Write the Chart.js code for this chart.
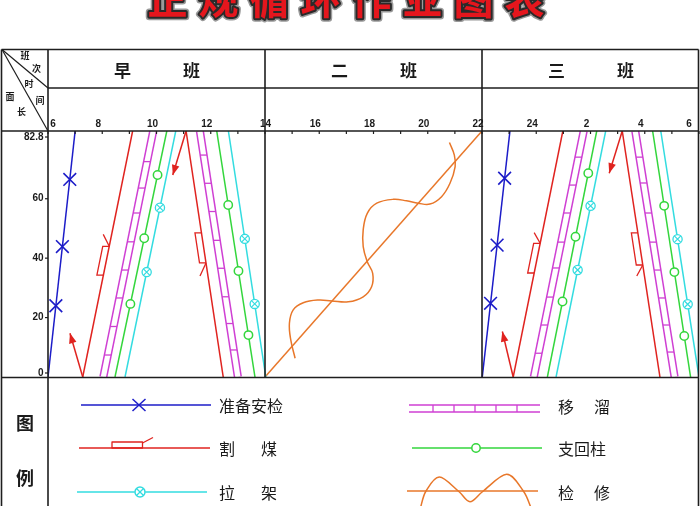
<!DOCTYPE html>
<html><head><meta charset="utf-8">
<script src="https://cdn.jsdelivr.net/npm/chart.js@4.4.1/dist/chart.umd.min.js"></script>
<style>html,body{margin:0;padding:0;background:#fff}canvas{display:block}</style>
</head><body>
<canvas id="c" width="700" height="506"></canvas>
<script>
// ---------- data ----------
const titleText = '正规循环作业图表';
const shiftNames = [['早','班'],['二','班'],['三','班']];
const shiftBounds = [6, 14, 22, 30];
const hourTicks = [6,8,10,12,14,16,18,20,22,24,26,28,30];
const hourLabels = ['6','8','10','12','14','16','18','20','22','24','2','4','6'];
const lengthTicks = [0,20,40,60,82.8];
const lengthLabels = ['0','20','40','60','82.8'];

// process lines: [time, face length m]
const prep1 = [[6.00,0],[7.00,82.8]];
const prep3 = [[22.01,0],[23.03,82.8]];
const cutUp1 = [[7.28,0],[9.12,82.8]];
const cutDown1 = [[11.09,82.8],[12.46,0]];
const cutUp3 = [[23.15,0],[24.98,82.8]];
const cutDown3 = [[27.17,82.8],[28.56,0]];
const moveUp1 = [[8.04,0],[9.88,82.8]];
const moveDown1 = [[11.60,82.8],[13.00,0]];
const moveUp3 = [[23.91,0],[25.75,82.8]];
const moveDown3 = [[27.65,82.8],[29.10,0]];
const propUp1 = [[8.47,0],[10.38,82.8]];
const propDown1 = [[12.22,82.8],[13.63,0]];
const propUp3 = [[24.41,0],[26.23,82.8]];
const propDown3 = [[28.29,82.8],[29.69,0]];
const pullUp1 = [[8.84,0],[10.71,82.8]];
const pullDown1 = [[12.65,82.8],[14.03,0]];
const pullUp3 = [[24.73,0],[26.56,82.8]];
const pullDown3 = [[28.59,82.8],[30.00,0]];
const repairLine = [[14,0],[22,82.8]];
const repairWave = [[15.11,6.3],[14.95,12.5],[14.90,18.1],[15.04,22.6],[15.41,25.0],[15.97,25.9],[16.46,25.6],[17.07,25.3],[17.62,27.0],[17.93,30.4],[17.97,34.9],[17.77,38.8],[17.62,43.9],[17.62,49.5],[17.77,55.1],[18.12,58.5],[18.73,59.8],[19.22,59.3],[19.65,58.5],[20.08,58.2],[20.51,60.7],[20.82,65.2],[21.01,70.8],[20.98,74.7],[20.80,78.9]];
const arrowLines = [
  [[7.28,0],[6.81,14.7]],
  [[11.09,82.8],[10.60,68.0]],
  [[23.15,0],[22.75,15.3]],
  [[27.17,82.8],[26.69,68.6]]
];

// marker positions along the face (m)
const prepMarks1 = [24.0, 43.9, 66.5];
const prepMarks3 = [24.8, 44.4, 66.9];
const propMarksUp1 = [24.6, 46.7, 68.0];
const propMarksDown1 = [14.1, 35.7, 57.9];
const propMarksUp3 = [25.4, 47.2, 68.6];
const propMarksDown3 = [13.8, 35.3, 57.6];
const pullMarksUp1 = [35.3, 57.0];
const pullMarksDown1 = [24.6, 46.5];
const pullMarksUp3 = [36.0, 57.6];
const pullMarksDown3 = [24.5, 46.4];
const moveTiesUp1 = [7.4,17.0,26.6,36.0,45.5,55.2,63.6,72.5];
const moveTiesDown1 = [9.1,18.0,27.0,36.6,46.0,55.7,65.2,74.7];
const moveTiesUp3 = [8.0,17.5,26.9,36.7,45.4,55.2,64.6,74.0];
const moveTiesDown3 = [8.4,17.5,26.6,36.0,45.4,55.2,65.3,74.0];
const cutSpans = [[34.3,44.0,48.0],[48.5,38.4,34.0],[35.0,45.0,48.6],[48.5,37.7,34.0]];

// ---------- styles ----------
const C = {blue:'#1c1cc8', red:'#e0231f', magenta:'#cf3fd3', green:'#33d63c', cyan:'#33dce0', orange:'#e8772a', frame:'#1e1e1e', text:'#1a1a1a'};

function along(line, v){
  const [[x0,y0],[x1,y1]] = line;
  return x0 + (v - y0) / (y1 - y0) * (x1 - x0);
}
function marks(line, vals){ return vals.map(v => [along(line, v), v]); }

function lineDs(data, color, width, order){
  return {data, showLine:true, borderColor:color, borderWidth:width, pointRadius:0, fill:false, tension:0, order, clip:0};
}
function markDs(data, style, radius, color, bg, bw){
  return {data, showLine:false, pointStyle:style, pointRadius:radius, pointBorderColor:color, pointBackgroundColor:bg, pointBorderWidth:bw, order:1, clip:false};
}

const datasets = [];
[moveUp1, moveDown1, moveUp3, moveDown3].forEach(l => {
  datasets.push(lineDs(l, C.magenta, 8.2, 6));
  datasets.push(lineDs(l, '#ffffff', 5.2, 5));
});
[prep1, prep3].forEach(l => datasets.push(lineDs(l, C.blue, 1.5, 3)));
[cutUp1, cutDown1, cutUp3, cutDown3].forEach(l => datasets.push(lineDs(l, C.red, 1.5, 3)));
[propUp1, propDown1, propUp3, propDown3].forEach(l => datasets.push(lineDs(l, C.green, 1.5, 3)));
[pullUp1, pullDown1, pullUp3, pullDown3].forEach(l => datasets.push(lineDs(l, C.cyan, 1.5, 3)));
datasets.push(lineDs(repairLine, C.orange, 1.5, 3));
const wave = lineDs(repairWave, C.orange, 1.5, 3); wave.tension = 0.4; datasets.push(wave);
arrowLines.forEach(l => datasets.push(lineDs(l, C.red, 1.5, 2)));

datasets.push(markDs(marks(prep1, prepMarks1), 'crossRot', 9, C.blue, C.blue, 1.6));
datasets.push(markDs(marks(prep3, prepMarks3), 'crossRot', 9, C.blue, C.blue, 1.6));
[[propUp1,propMarksUp1],[propDown1,propMarksDown1],[propUp3,propMarksUp3],[propDown3,propMarksDown3]].forEach(([l,m]) =>
  datasets.push(markDs(marks(l, m), 'circle', 4.2, C.green, '#ffffff', 1.5)));
[[pullUp1,pullMarksUp1],[pullDown1,pullMarksDown1],[pullUp3,pullMarksUp3],[pullDown3,pullMarksDown3]].forEach(([l,m]) => {
  datasets.push(markDs(marks(l, m), 'circle', 4.6, C.cyan, '#ffffff', 1.3));
  const d = markDs(marks(l, m), 'crossRot', 4.6, C.cyan, C.cyan, 1.2); d.order = 0; datasets.push(d);
});

const moveSets = [[moveUp1,moveTiesUp1],[moveDown1,moveTiesDown1],[moveUp3,moveTiesUp3],[moveDown3,moveTiesDown3]];
const cutSets = [[cutUp1,cutSpans[0]],[cutDown1,cutSpans[1]],[cutUp3,cutSpans[2]],[cutDown3,cutSpans[3]]];

const CJK = '"Noto Sans CJK SC", sans-serif';
const NUM = '"Liberation Sans", Arial, sans-serif';

function seg(ctx, x0, y0, x1, y1){ ctx.beginPath(); ctx.moveTo(x0,y0); ctx.lineTo(x1,y1); ctx.stroke(); }
function smooth(ctx, pts){
  ctx.beginPath(); ctx.moveTo(pts[0][0], pts[0][1]);
  for (let i = 0; i < pts.length - 1; i++){
    const p0 = pts[Math.max(0,i-1)], p1 = pts[i], p2 = pts[i+1], p3 = pts[Math.min(pts.length-1,i+2)];
    ctx.bezierCurveTo(p1[0]+(p2[0]-p0[0])/6, p1[1]+(p2[1]-p0[1])/6, p2[0]-(p3[0]-p1[0])/6, p2[1]-(p3[1]-p1[1])/6, p2[0], p2[1]);
  }
  ctx.stroke();
}

const decor = {
  id:'decor',
  beforeDraw(chart){
    const c = chart.ctx; c.save(); c.fillStyle = '#fff'; c.fillRect(0,0,chart.width,chart.height); c.restore();
  },
  afterDatasetsDraw(chart){
    const ctx = chart.ctx, xs = chart.scales.x, ys = chart.scales.y, a = chart.chartArea;
    const P = (t,v) => ({x: xs.getPixelForValue(t), y: ys.getPixelForValue(v)});
    ctx.save();
    ctx.beginPath(); ctx.rect(a.left, a.top, a.right-a.left, a.bottom-a.top); ctx.clip();
    ctx.strokeStyle = C.magenta; ctx.lineWidth = 1.3;
    moveSets.forEach(([line, ties]) => ties.forEach(v => {
      const p = P(along(line, v), v); seg(ctx, p.x-3.4, p.y, p.x+3.4, p.y);
    }));
    ctx.strokeStyle = C.red; ctx.lineWidth = 1.3;
    cutSets.forEach(([line, s]) => {
      const pa = P(along(line, s[0]), s[0]), pb = P(along(line, s[1]), s[1]), pt = ys.getPixelForValue(s[2]);
      ctx.beginPath(); ctx.moveTo(pa.x, pa.y); ctx.lineTo(pa.x-6.5, pa.y); ctx.lineTo(pb.x-6.5, pb.y); ctx.lineTo(pb.x, pb.y); ctx.stroke();
      seg(ctx, pb.x, pb.y, pb.x-6, pt);
    });
    ctx.fillStyle = C.red;
    arrowLines.forEach(ar => {
      const s = P(ar[0][0], ar[0][1]), e = P(ar[1][0], ar[1][1]);
      const dx = e.x-s.x, dy = e.y-s.y, L = Math.hypot(dx,dy), ux = dx/L, uy = dy/L;
      const bx = e.x-ux*10, by = e.y-uy*10;
      ctx.beginPath(); ctx.moveTo(e.x, e.y); ctx.lineTo(bx-uy*3.8, by+ux*3.8); ctx.lineTo(bx+uy*3.8, by-ux*3.8); ctx.closePath(); ctx.fill();
    });
    ctx.restore();
  },
  afterDraw(chart){
    const ctx = chart.ctx, xs = chart.scales.x, ys = chart.scales.y, a = chart.chartArea;
    ctx.save();
    // title
    ctx.font = 'bold 40px ' + CJK; ctx.textAlign = 'center'; ctx.textBaseline = 'alphabetic';
    ctx.lineJoin = 'round';
    [...titleText].forEach((ch, i) => {
      const x = 167.5 + i*51;
      ctx.strokeStyle = '#9a9a9a'; ctx.lineWidth = 7; ctx.strokeText(ch, x, 14);
      ctx.strokeStyle = '#2a2a2a'; ctx.lineWidth = 4; ctx.strokeText(ch, x, 14);
      ctx.fillStyle = '#e5161d'; ctx.fillText(ch, x, 14);
    });
    // frame
    const L = 1.5, R = 698.5, T = 49.5, H1 = 88, AX = a.top, B = a.bottom + 0.5, BOT = 506;
    ctx.strokeStyle = C.frame; ctx.lineWidth = 1.6;
    seg(ctx, L, T, R, T); seg(ctx, L, T, L, BOT); seg(ctx, R, T, R, BOT);
    seg(ctx, a.left, T, a.left, BOT); seg(ctx, a.left, H1, R, H1);
    seg(ctx, L, AX, R, AX); seg(ctx, L, B, R, B);
    shiftBounds.slice(1, -1).forEach(h => { const x = xs.getPixelForValue(h); seg(ctx, x, T, x, B); });
    ctx.lineWidth = 1.2;
    seg(ctx, L+0.5, T, a.left, H1); seg(ctx, L+0.5, T, a.left, AX);
    // hour ticks
    ctx.lineWidth = 1.2;
    for (let h = shiftBounds[0]; h <= shiftBounds[3]; h++){ const x = xs.getPixelForValue(h); seg(ctx, x, AX, x, AX+3); }
    // header
    ctx.fillStyle = C.text; ctx.textAlign = 'center'; ctx.textBaseline = 'middle';
    ctx.font = 'bold 17px ' + CJK;
    shiftNames.forEach((n, i) => {
      const cx = (xs.getPixelForValue(shiftBounds[i]) + xs.getPixelForValue(shiftBounds[i+1])) / 2;
      ctx.fillText(n[0], cx-34, 71); ctx.fillText(n[1], cx+35, 71);
    });
    ctx.font = 'bold 9px ' + CJK;
    [['班',25,56],['次',36.5,69],['时',29,84],['间',40,101],['面',10,97],['长',21.5,112]].forEach(t => ctx.fillText(t[0], t[1], t[2]));
    // hour labels
    ctx.font = 'bold 10px ' + NUM; ctx.textBaseline = 'middle';
    hourTicks.forEach((h, i) => {
      let x = xs.getPixelForValue(h) - 4;
      if (i === 0) x = a.left + 5;
      if (i === hourTicks.length - 1) x = a.right - 10;
      if (h === 14) x = xs.getPixelForValue(h) + 0.5;
      ctx.fillText(hourLabels[i], x, 124);
    });
    // length labels
    ctx.textAlign = 'right';
    lengthTicks.forEach((v, i) => {
      const y = Math.min(Math.max(ys.getPixelForValue(v), a.top + 6), a.bottom - 4);
      ctx.fillText(lengthLabels[i], 43.5, y);
      ctx.lineWidth = 1.2; seg(ctx, a.left-3, y, a.left, y);
    });
    // legend
    ctx.textAlign = 'center'; ctx.font = 'bold 18px ' + CJK;
    ctx.fillText('图', 25, 423); ctx.fillText('例', 25, 478);
    ctx.lineWidth = 1.5;
    // 准备安检
    ctx.strokeStyle = C.blue; seg(ctx, 81, 405, 211, 405);
    seg(ctx, 132.5, 399, 145.5, 411); seg(ctx, 132.5, 411, 145.5, 399);
    // 割煤
    ctx.strokeStyle = C.red; seg(ctx, 79, 448, 210, 448);
    ctx.lineWidth = 1.3; ctx.strokeRect(112, 442, 30.5, 6); seg(ctx, 142.5, 443, 153, 437.5);
    // 拉架
    ctx.lineWidth = 1.5; ctx.strokeStyle = C.cyan; seg(ctx, 77, 492, 134.8, 492); seg(ctx, 145.2, 492, 207, 492);
    ctx.beginPath(); ctx.arc(140, 492, 5, 0, Math.PI*2); ctx.stroke();
    ctx.lineWidth = 1.2; seg(ctx, 136.5, 488.5, 143.5, 495.5); seg(ctx, 136.5, 495.5, 143.5, 488.5);
    // 移溜
    ctx.lineWidth = 1.5; ctx.strokeStyle = C.magenta; seg(ctx, 409, 405, 540, 405); seg(ctx, 409, 412, 540, 412);
    ctx.lineWidth = 1.3; [433,454,475,496,517].forEach(x => seg(ctx, x, 405, x, 412));
    // 支回柱
    ctx.lineWidth = 1.5; ctx.strokeStyle = C.green; seg(ctx, 412, 448, 471.8, 448); seg(ctx, 480.2, 448, 542, 448);
    ctx.beginPath(); ctx.arc(476, 448, 4.2, 0, Math.PI*2); ctx.stroke();
    // 检修
    ctx.strokeStyle = C.orange; seg(ctx, 407, 491, 538, 491);
    smooth(ctx, [[420.7,507],[426,491],[439.3,477],[458.3,491],[470,501.7],[483.3,491],[506.7,474.3],[523.3,491],[530.7,507]]);
    // legend text
    ctx.fillStyle = C.text; ctx.font = '16px ' + CJK; ctx.textAlign = 'left';
    ctx.fillText('准备安检', 219, 406);
    ctx.fillText('割', 219, 449); ctx.fillText('煤', 261, 449);
    ctx.fillText('拉', 219, 493); ctx.fillText('架', 261, 493);
    ctx.fillText('移', 558, 407); ctx.fillText('溜', 594, 407);
    ctx.fillText('支回柱', 558, 449);
    ctx.fillText('检', 558, 493); ctx.fillText('修', 594, 493);
    ctx.restore();
  }
};

new Chart(document.getElementById('c'), {
  type:'scatter',
  data:{datasets},
  options:{
    responsive:false, animation:false, devicePixelRatio:1, events:[],
    layout:{autoPadding:false, padding:{left:48, right:1, top:131, bottom:129}},
    scales:{
      x:{type:'linear', min:shiftBounds[0], max:shiftBounds[3], display:false},
      y:{type:'linear', min:0, max:82.8, display:false}
    },
    plugins:{legend:{display:false}, tooltip:{enabled:false}}
  },
  plugins:[decor]
});
</script>
</body></html>
